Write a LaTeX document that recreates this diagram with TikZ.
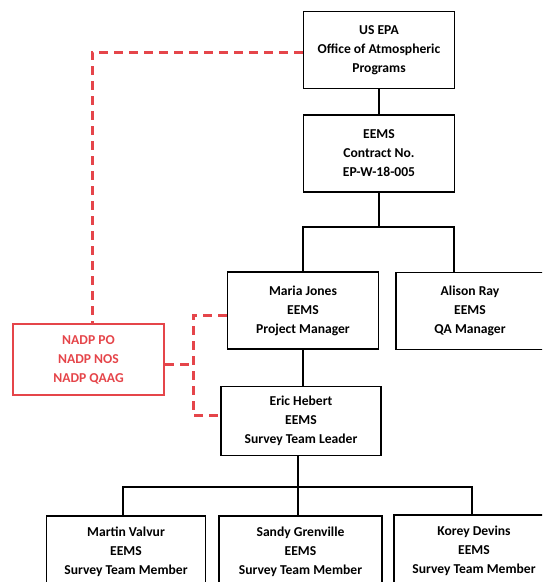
\documentclass[tikz,border=0pt]{standalone}
\usepackage{fontspec}
\setmainfont{Carlito}
\usepackage{xcolor}
\definecolor{nadpred}{HTML}{E5454A}

\begin{document}
\begin{tikzpicture}[
x=1pt, y=-1pt,
font=\fontsize{13.6}{19}\selectfont\bfseries,
box/.style={draw,
rectangle,
line width=1.3pt,
inner sep=0pt,
minimum width=151pt,
minimum height=77pt,
align=center},
nadpbox/.style={box, draw=nadpred, text=nadpred, line width=2.2pt, minimum height=71pt},
link/.style={line width=1.3pt},
liaison/.style={draw=nadpred, line width=3pt, dash pattern=on 9pt off 6pt}
]

\clip (0,0) rectangle (542,582);

\node[box] (epa) at (379,50) {US EPA\\Office of Atmospheric\\Programs};
\node[box] (contract) at (379,153.5) {EEMS\\Contract No.\\EP-W-18-005};
\node[box] (maria) at (303,310.5) {Maria Jones\\EEMS\\Project Manager};
\node[box, minimum width=148pt] (alison) at (470,311) {Alison Ray\\EEMS\\QA Manager};
\node[nadpbox] (nadp) at (88.5,359.5) {NADP PO\\NADP NOS\\NADP QAAG};
\node[box, minimum width=160pt, minimum height=69pt] (eric) at (301,421) {Eric Hebert\\EEMS\\Survey Team Leader};
\node[box, minimum width=159pt, minimum height=72pt] (martin) at (126,552) {Martin Valvur\\EEMS\\Survey Team Member};
\node[box, minimum width=163pt, minimum height=72pt] (sandy) at (300.5,552) {Sandy Grenville\\EEMS\\Survey Team Member};
\node[box, minimum width=160pt, minimum height=72pt] (korey) at (474,551) {Korey Devins\\EEMS\\Survey Team Member};

\coordinate (split1) at (379,227);
\coordinate (split2) at (298,487);
\coordinate (redbus) at (193,364);

\draw[link] (epa) -- (contract);
\draw[link] (contract) -- (split1);
\draw[link] (maria.north) |- (split1) -| ([xshift=-16pt]alison.north);
\draw[link] (maria.south) -- (maria.south |- eric.north);
\draw[link] ([xshift=-3pt]eric.south) -- (split2);
\draw[link] ([xshift=-3pt]martin.north) |- (split2) -| ([xshift=-2pt]korey.north);
\draw[link] (split2) -- (split2 |- sandy.north);

\draw[liaison] (epa.west |- 0,52) -| ([xshift=3.5pt]nadp.north);
\draw[liaison] (nadp.east |- redbus) -- (redbus);
\draw[liaison] ([yshift=-4.5pt]maria.west) -| (redbus) |- ([yshift=6pt]eric.west);

\end{tikzpicture}
\end{document}
